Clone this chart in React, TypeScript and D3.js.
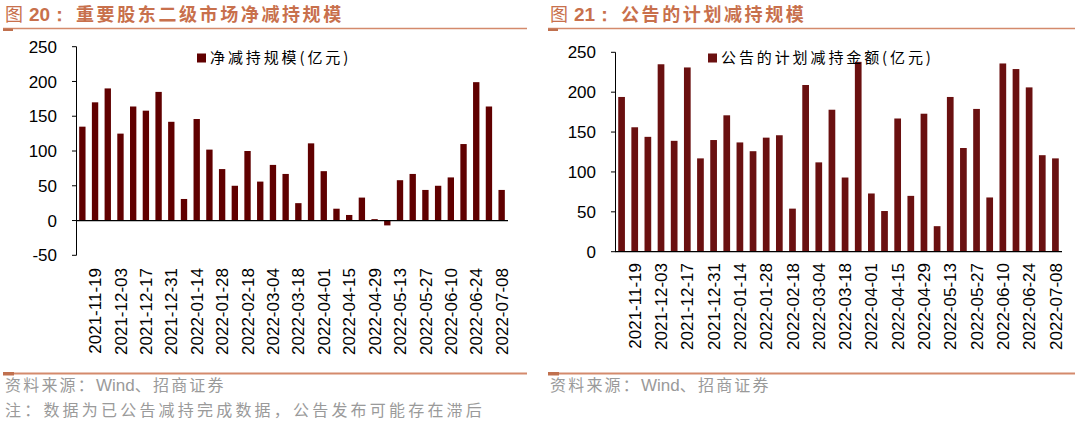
import React from "react";
import * as d3 from "d3";

const dates = [
  "2021-11-12","2021-11-19","2021-11-26","2021-12-03","2021-12-10","2021-12-17","2021-12-24","2021-12-31",
  "2022-01-07","2022-01-14","2022-01-21","2022-01-28","2022-02-11","2022-02-18","2022-02-25","2022-03-04",
  "2022-03-11","2022-03-18","2022-03-25","2022-04-01","2022-04-08","2022-04-15","2022-04-22","2022-04-29",
  "2022-05-06","2022-05-13","2022-05-20","2022-05-27","2022-06-02","2022-06-10","2022-06-17","2022-06-24",
  "2022-07-01","2022-07-08",
];

const netReduction = [
  135,170,190,125,164,158,185,142,31,146,102,74,50,100,56,80,
  67,25,111,71,17,8,33,2,-7,58,67,44,50,62,110,199,164,44,
];

const plannedReduction = [
  194,156,144,235,139,231,117,140,171,137,126,143,146,54,209,112,
  178,93,238,73,51,167,70,173,32,194,130,179,68,236,229,206,121,117,
];

const leftTicks = [-50, 0, 50, 100, 150, 200, 250];
const rightTicks = [0, 50, 100, 150, 200, 250];

const leftTitleNum = "20：";
const leftTitleText = "重要股东二级市场净减持规模";
const rightTitleNum = "21：";
const rightTitleText = "公告的计划减持规模";
const leftLegend = "净减持规模(亿元)";
const rightLegend = "公告的计划减持金额(亿元)";
const sourceParts = ["资料来源：", "Wind", "、招商证券"];
const noteText = "注：数据为已公告减持完成数据，公告发布可能存在滞后";

const CJK = "'Noto Sans CJK SC', 'Liberation Sans', Arial, sans-serif";
const LAT = "'Liberation Sans', Arial, sans-serif";
const TITLE_COLOR = "#C8704C";
const LINE_COLOR = "#D48A6C";

type ChartProps = {
  values: number[];
  ticks: number[];
  domain: [number, number];
  x0: number; x1: number; yTop: number; yBottom: number;
  color: string; padding: number;
  labelTop: number;
  legend: string; legendX: number;
};

function BarChart(p: ChartProps) {
  const x = d3.scaleBand<string>().domain(dates).range([p.x0, p.x1]).paddingInner(p.padding).paddingOuter(p.padding / 2);
  const y = d3.scaleLinear().domain(p.domain).range([p.yBottom, p.yTop]);
  const y0 = y(0);
  return (
    <g>
      {p.values.map((v, i) => (
        <rect key={i} x={x(dates[i])} width={x.bandwidth()} y={Math.min(y(v), y0)} height={Math.abs(y(v) - y0)} fill={p.color} />
      ))}
      <line x1={p.x0 + 0.5} x2={p.x0 + 0.5} y1={y(p.domain[1])} y2={y(p.domain[0])} stroke="#000" strokeWidth={1} />
      {p.ticks.map((t) => (
        <g key={t}>
          <line x1={p.x0 - 4} x2={p.x0 + 0.5} y1={y(t)} y2={y(t)} stroke="#000" strokeWidth={1} />
          <text x={p.x0 - 19} y={y(t)} dy="0.36em" textAnchor="end" fontFamily={LAT} fontSize={17} fill="#000">{t}</text>
        </g>
      ))}
      <line x1={p.x0} x2={p.x1} y1={y0} y2={y0} stroke="#000" strokeWidth={1.2} />
      {dates.map((d, i) =>
        i % 2 === 1 ? (
          <text key={d} transform={`translate(${(x(d) as number) + x.bandwidth() / 2},${p.labelTop}) rotate(-90)`} dy="0.36em" textAnchor="end" fontFamily={LAT} fontSize={17} fill="#000">{d}</text>
        ) : null
      )}
      <rect x={p.legendX} y={53.5} width={9} height={9} fill={p.color} />
      <text x={p.legendX + 13} y={58} dy="0.36em" fontFamily={CJK} fontSize={15} letterSpacing={2.9} fill="#000">{p.legend}</text>
    </g>
  );
}

function Header({ x, x2, num, text }: { x: number; x2: number; num: string; text: string }) {
  return (
    <g>
      <text x={x + 2} y={21} fontFamily={CJK} fontSize={18} fill={TITLE_COLOR}>图</text>
      <text x={x + 26} y={21} fontFamily={LAT} fontWeight={700} fontSize={19} fill={TITLE_COLOR}>{num}</text>
      <text x={x + 73} y={21} fontFamily={CJK} fontWeight={700} fontSize={18} letterSpacing={2.6} fill={TITLE_COLOR}>{text}</text>
      <line x1={x} x2={x2} y1={28.5} y2={28.5} stroke={LINE_COLOR} strokeWidth={1.5} />
      <rect x={x} y={28.5} width={10} height={2.5} fill="#C0704E" />
    </g>
  );
}

function Footer({ x, x2 }: { x: number; x2: number }) {
  return (
    <g>
      <line x1={x} x2={x2} y1={373.5} y2={373.5} stroke={LINE_COLOR} strokeWidth={2} />
      <rect x={x} y={372} width={11} height={3.5} fill="#C0704E" />
      <text x={x + 2} y={391} fontFamily={CJK} fontSize={16} fill="#9A9A9A">
        <tspan letterSpacing={2.2}>{sourceParts[0]}</tspan>
        <tspan fontFamily={LAT} fontSize={17}>{sourceParts[1]}</tspan>
        <tspan letterSpacing={2.2}>{sourceParts[2]}</tspan>
      </text>
    </g>
  );
}

export default function App() {
  return (
    <div style={{ position: "absolute", left: 0, top: 0 }}>
      <svg width={1080} height={423} viewBox="0 0 1080 423" style={{ display: "block", background: "#fff" }}>
        <Header x={3} x2={527} num={leftTitleNum} text={leftTitleText} />
        <Header x={548} x2={1075} num={rightTitleNum} text={rightTitleText} />
        <BarChart values={netReduction} ticks={leftTicks} domain={[-50, 250]} x0={76} x1={508} yTop={46.7} yBottom={255.3}
          color="#600000" padding={0.5} labelTop={268} legend={leftLegend} legendX={197} />
        <BarChart values={plannedReduction} ticks={rightTicks} domain={[0, 250]} x0={615} x1={1062} yTop={52.3} yBottom={251.7}
          color="#6A1010" padding={0.49} labelTop={263} legend={rightLegend} legendX={708} />
        <Footer x={3} x2={527} />
        <Footer x={548} x2={1075} />
        <text x={5} y={416} fontFamily={CJK} fontSize={16} letterSpacing={3.2} fill="#9A9A9A">{noteText}</text>
      </svg>
    </div>
  );
}
